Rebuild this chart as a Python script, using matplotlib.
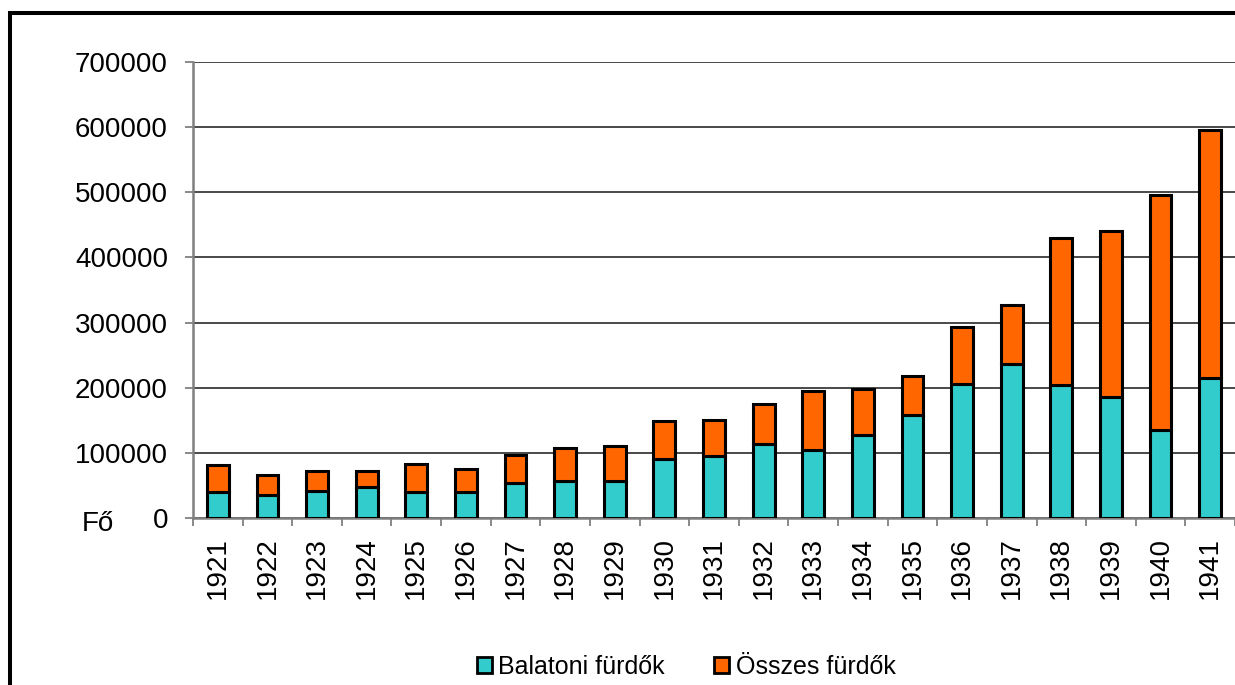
import numpy as np
import matplotlib.pyplot as plt
from matplotlib.patches import Patch, Rectangle

plt.rcParams['font.family'] = ['Liberation Sans', 'DejaVu Sans']

# Adatok (leolvasva az ábráról)
evek = ['1921', '1922', '1923', '1924', '1925', '1926', '1927', '1928', '1929', '1930', '1931',
        '1932', '1933', '1934', '1935', '1936', '1937', '1938', '1939', '1940', '1941']
balatoni = [40500, 34800, 42000, 48200, 40500, 40500, 53000, 57000, 57000, 91000, 95000,
            113000, 104000, 128000, 158000, 205500, 237000, 203500, 186000, 135000, 214500]
osszes = [40400, 30700, 29700, 23500, 42500, 35300, 43200, 51000, 53500, 58000, 55500,
          62000, 91000, 70000, 60000, 87500, 90500, 226500, 255000, 361000, 380500]
y_ticks = [0, 100000, 200000, 300000, 400000, 500000, 600000, 700000]

cyan = '#33cccc'
narancs = '#ff6600'

fig = plt.figure(figsize=(12.35, 6.85), dpi=100)
ax = fig.add_axes([193 / 1235, 167 / 685, 1042 / 1235, 456 / 685])

x = np.arange(len(evek))
ax.bar(x, balatoni, width=0.44, color=cyan, edgecolor='black', linewidth=2.2, zorder=3)
ax.bar(x, osszes, width=0.44, bottom=balatoni, color=narancs, edgecolor='black', linewidth=2.2, zorder=3)

ax.set_xlim(-0.5, len(evek) - 0.5)
ax.set_ylim(0, 700000)
ax.set_yticks(y_ticks)
ax.set_yticklabels([str(v) for v in y_ticks], fontsize=20)
ax.yaxis.grid(True, color='#3a3a3a', linewidth=1.3, zorder=0)

ax.set_xticks(x)
ax.set_xticklabels(evek, rotation=90, fontsize=20)
ax.tick_params(axis='x', which='major', length=0, pad=14)
ax.set_xticks(np.arange(len(evek) + 1) - 0.5, minor=True)
ax.tick_params(axis='x', which='minor', length=6, width=1.3, color='#808080', direction='out')
ax.tick_params(axis='y', length=6, width=1.3, color='#808080', pad=12)

for s in ['top', 'right']:
    ax.spines[s].set_visible(False)
for s in ['left', 'bottom']:
    ax.spines[s].set_color('#808080')
    ax.spines[s].set_linewidth(1.8)

fig.text(98 / 1235, 1 - 524 / 685, 'Fő', fontsize=20, ha='center', va='center')

handles = [Patch(facecolor=cyan, edgecolor='black', linewidth=2, label='Balatoni fürdők'),
           Patch(facecolor=narancs, edgecolor='black', linewidth=2, label='Összes fürdők')]
fig.legend(handles=handles, loc='center', bbox_to_anchor=(686 / 1235, 1 - 667 / 685), ncol=2,
           frameon=False, fontsize=18, handlelength=0.6, handleheight=0.6,
           handletextpad=0.25, columnspacing=2.0, borderpad=0)

# fekete keret
fig.patches.append(Rectangle((9.5 / 1235, -0.2), 1.2, 1.2 - 12.5 / 685, transform=fig.transFigure,
                             fill=False, edgecolor='black', linewidth=2.9, clip_on=False))

fig.savefig('out.png', dpi=100)
